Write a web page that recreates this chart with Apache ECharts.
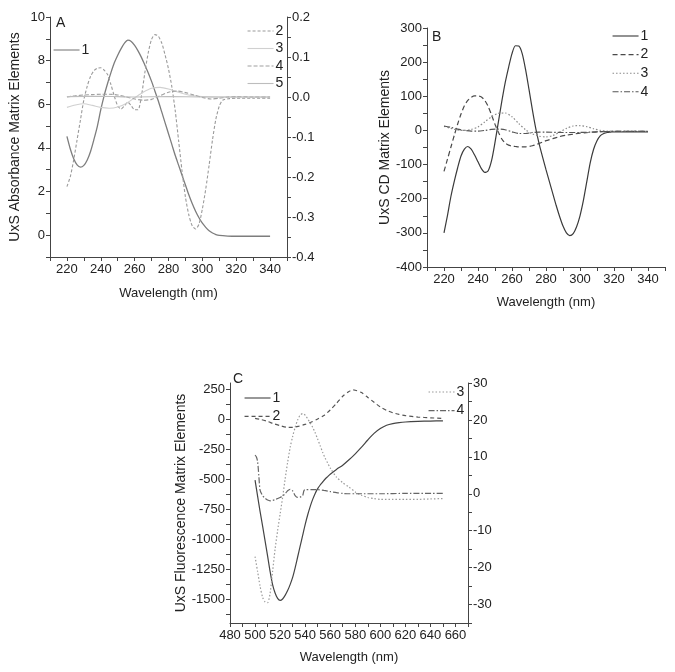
<!DOCTYPE html>
<html><head><meta charset="utf-8">
<script src="https://cdn.jsdelivr.net/npm/echarts@6/dist/echarts.min.js"></script>
<style>html,body{margin:0;padding:0;background:#fff}#c{width:675px;height:672px}</style>
</head><body><div id="c"></div>
<script>
// ---------- Panel A (absorbance) ----------
const aX1 = [220,222,224,226,228,230,232,234,236,238,240,242,244,246,248,250,252,254,256,258,260,262,264,266,268,270,272,274,276,278,280,282,284,286,288,290,292,294,296,298,300,302,304,306,308,310,315,320,330,340];
const aY1 = [4.53,3.95,3.5,3.22,3.12,3.2,3.45,3.85,4.4,5.0,5.75,6.4,6.95,7.45,7.9,8.25,8.55,8.8,8.94,8.88,8.7,8.45,8.15,7.8,7.45,7.05,6.6,6.15,5.65,5.15,4.65,4.15,3.65,3.2,2.75,2.3,1.85,1.45,1.1,0.8,0.55,0.36,0.2,0.1,0.03,-0.01,-0.04,-0.05,-0.05,-0.05];
const aX2 = [220,222,224,226,228,230,232,234,236,238,240,242,244,246,248,250,252,254,256,258,260,262,264,266,268,270,272,274,276,278,280,282,284,286,288,290,292,294,296,298,300,302,304,306,308,310,312,316,320,330,340];
const aY2 = [-0.224,-0.199,-0.157,-0.107,-0.057,-0.007,0.027,0.052,0.066,0.072,0.073,0.067,0.056,0.031,0.002,-0.022,-0.03,-0.022,-0.013,-0.022,-0.032,-0.032,0.002,0.06,0.11,0.144,0.156,0.152,0.135,0.105,0.07,0.025,-0.035,-0.11,-0.185,-0.25,-0.295,-0.322,-0.33,-0.318,-0.28,-0.23,-0.17,-0.107,-0.055,-0.023,-0.008,-0.004,-0.003,-0.003,-0.003];
const aX3 = [220,225,230,235,240,245,250,255,260,265,270,275,280,285,290,295,300,310,320,330,340];
const aY3 = [-0.026,-0.02,-0.017,-0.021,-0.026,-0.028,-0.025,-0.016,-0.002,0.012,0.022,0.024,0.02,0.013,0.007,0.003,0.001,0,0,0,0];
const aX4 = [220,225,230,235,240,245,250,255,260,265,270,275,280,285,290,295,300,305,310,315,320,330,340];
const aY4 = [0.0,0.003,0.005,0.006,0.007,0.007,0.005,0.0,-0.005,-0.008,-0.006,0.003,0.012,0.015,0.011,0.005,-0.001,-0.005,-0.003,0,0.001,0,0];
const aX5 = [220,240,260,280,300,320,340];
const aY5 = [0.001,0.002,0.0,0.001,0.0,0.0,0.0];

// ---------- Panel B (CD) ----------
const bX1 = [220,222,224,226,228,230,232,234,236,238,240,242,244,246,248,250,252,254,256,258,260,262,264,266,268,270,272,274,276,278,280,282,284,286,288,290,292,294,296,298,300,302,304,306,308,310,312,314,316,318,320,330,340];
const bY1 = [-300,-250,-195,-150,-110,-75,-55,-47,-55,-72,-92,-112,-123,-118,-88,-35,25,85,140,185,225,248,247,225,178,120,60,5,-40,-78,-115,-150,-185,-220,-252,-280,-300,-308,-302,-282,-250,-205,-150,-95,-55,-30,-15,-9,-6,-5,-4,-4,-4];
const bX2 = [220,222,224,226,228,230,232,234,236,238,240,242,244,246,248,250,252,254,256,258,260,262,264,266,268,270,272,274,276,278,280,284,288,292,296,300,305,310,320,330,340];
const bY2 = [-120,-85,-50,-15,18,48,72,88,97,101,101,98,88,70,45,18,-5,-25,-37,-43,-46,-47,-48,-48,-48,-47,-45,-42,-38,-34,-30,-24,-18,-14,-11,-8,-6,-4,-3,-3,-3];
const bX3 = [220,224,228,232,236,240,244,248,252,256,260,264,268,272,276,280,284,288,292,296,300,304,308,312,316,320,330,340];
const bY3 = [12,6,1,0,3,10,25,40,50,51,40,20,2,-10,-17,-19,-15,-5,6,13,14,11,5,0,-2,-3,-3,-3];
const bX4 = [220,224,228,232,236,240,244,248,252,256,260,264,268,272,276,280,290,300,310,320,330,340];
const bY4 = [13,9,4,0,-2,-2,0,3,4,2,-4,-9,-9,-6,-5,-5,-6,-6,-4,-3,-3,-3];

// ---------- Panel C (fluorescence) ----------
const cX1 = [500,502,504,506,508,510,512,514,516,518,520,522,524,526,528,530,532,534,536,538,540,542,544,546,548,550,552,554,556,558,560,565,570,575,580,585,590,595,600,605,610,615,620,630,640,650];
const cY1 = [-510,-640,-770,-890,-1015,-1140,-1270,-1380,-1450,-1495,-1512,-1500,-1470,-1430,-1380,-1320,-1240,-1150,-1060,-970,-880,-800,-730,-670,-620,-580,-550,-525,-500,-480,-460,-420,-385,-340,-290,-235,-175,-120,-80,-52,-38,-30,-25,-20,-17,-15];
const cX2 = [500,505,510,515,520,525,530,535,540,545,550,555,560,565,570,575,578,580,585,590,595,600,605,610,615,620,630,640,650];
const cY2 = [5,-5,-20,-40,-55,-68,-70,-60,-45,-25,0,30,75,130,190,230,242,240,220,180,140,100,72,52,38,28,16,10,5];
const cX3 = [500,502,504,506,508,510,512,514,516,518,520,522,524,526,528,530,532,534,536,538,540,542,544,546,548,550,552,554,556,558,560,565,570,575,580,585,590,595,600,610,620,630,640,650];
const cY3 = [-17,-21,-25,-28,-29.3,-29.5,-27,-21,-15,-10,-5.5,-1,4,8.5,12.5,15.5,18,20,21.3,21.7,21.3,20.3,19.2,18,16.5,14.8,13,11.2,9.6,8.3,7,4.5,3,1.8,0.5,-0.4,-1,-1.3,-1.5,-1.5,-1.5,-1.5,-1.4,-1.3];
const cX4 = [500,501,502,503,504,506,508,510,512,514,516,518,520,522,524,526,528,530,532,534,536,538,539,540,545,550,555,560,565,570,575,580,600,620,650];
const cY4 = [10.5,10,8.8,5,1,-0.5,-1.2,-1.7,-1.9,-1.8,-1.6,-1.3,-1,-0.6,0,0.8,1.2,0.8,-0.5,-1,-0.9,-0.5,0.8,1.1,1.1,1.1,0.9,0.6,0.3,0.1,0,0,0,0.1,0.1];

// tick label lists
const cLeftLabels = [-1500,-1250,-1000,-750,-500,-250,0,250];
const cLeftTicks = [-1625,-1500,-1375,-1250,-1125,-1000,-875,-750,-625,-500,-375,-250,-125,0,125,250];

const FONT = "'Liberation Sans Narrow','Arial Narrow','Liberation Sans',Arial,sans-serif";
const FONT2 = "'Liberation Sans',Arial,sans-serif";
const AX = '#444', TX = '#222';

function zip(xs, ys){ return xs.map((v,i)=>[v, ys[i]]); }
function line(name, xi, yi, xs, ys, color, type, width){
  return {name, type:'line', xAxisIndex:xi, yAxisIndex:yi, data:zip(xs,ys),
    showSymbol:false, symbol:'none', smooth:0.25, animation:false,
    lineStyle:{color, type, width: width||1}, itemStyle:{color}};
}
const LBL = {color:TX, fontFamily:FONT, fontSize:13, margin:5};
function baseAxis(extra){
  return Object.assign({
    type:'value', splitLine:{show:false},
    axisLine:{show:true, onZero:false, lineStyle:{color:AX, width:1}},
    axisTick:{show:true, length:4, lineStyle:{color:AX}},
    nameTextStyle:{color:TX, fontFamily:FONT2, fontSize:14}
  }, extra);
}
const xName = {color:TX, fontFamily:FONT2, fontSize:13};
const every20 = v => (v % 20 === 0 ? String(v) : '');
function leg(data, left, top, gap){
  return {data, left, top, orient:'vertical', itemWidth:26, itemHeight:12, itemGap:gap, selectedMode:false,
    formatter:n=>n.slice(1), itemStyle:{opacity:0, borderWidth:0}, lineStyle:{width:1.1},
    textStyle:{color:TX, fontFamily:FONT, fontSize:14, padding:[0,0,0,-3]}};
}

const option = {
  backgroundColor:'#fff',
  animation:false,
  grid:[
    {left:50, top:17, width:237, height:240},
    {left:427, top:28, width:238, height:239},
    {left:230, top:383, width:238, height:240}
  ],
  xAxis:[
    baseAxis({gridIndex:0, min:210, max:350, interval:10, axisLabel:Object.assign({}, LBL, {margin:6, formatter:every20}),
      name:'Wavelength (nm)', nameLocation:'middle', nameGap:30, nameTextStyle:xName}),
    baseAxis({gridIndex:1, min:210, max:350, interval:10, axisLabel:Object.assign({}, LBL, {margin:6, formatter:every20}),
      name:'Wavelength (nm)', nameLocation:'middle', nameGap:29, nameTextStyle:xName}),
    baseAxis({gridIndex:2, min:480, max:670, interval:10, axisLabel:Object.assign({}, LBL, {margin:6, formatter:every20}),
      name:'Wavelength (nm)', nameLocation:'middle', nameGap:28, nameTextStyle:xName})
  ],
  yAxis:[
    baseAxis({gridIndex:0, position:'left', min:-1, max:10, interval:1,
      axisLabel:Object.assign({}, LBL, {formatter:v => (v>=0 && v%2===0 ? String(v) : '')}),
      name:'UxS Absorbance Matrix Elements', nameLocation:'middle', nameGap:28, nameRotate:90}),
    baseAxis({gridIndex:0, position:'right', min:-0.4, max:0.2, interval:0.05,
      axisLabel:Object.assign({}, LBL, {formatter:v => {const k=Math.round(v*100); return k%10===0 ? (k/100).toFixed(1) : '';}})}),
    baseAxis({gridIndex:1, position:'left', min:-400, max:300, interval:50,
      axisLabel:Object.assign({}, LBL, {formatter:v => (v%100===0 ? String(v) : '')}),
      name:'UxS CD Matrix Elements', nameLocation:'middle', nameGap:34, nameRotate:90}),
    baseAxis({gridIndex:2, position:'left', min:-1700, max:300,
      axisTick:{show:true, length:4, lineStyle:{color:AX}, customValues:cLeftTicks},
      axisLabel:Object.assign({}, LBL, {customValues:cLeftLabels, formatter:v => String(v)}),
      name:'UxS Fluorescence Matrix Elements', nameLocation:'middle', nameGap:38, nameRotate:90}),
    baseAxis({gridIndex:2, position:'right', min:-35, max:30, interval:5,
      axisLabel:Object.assign({}, LBL, {formatter:v => (v%10===0 ? String(v) : '')})})
  ],
  legend:[
    leg(['a1'], 48, 38, 4),
    leg(['a2','a3','a4','a5'], 242, 19, 3.5),
    leg(['b1','b2','b3','b4'], 607, 24, 4.6),
    leg(['c1','c2'], 239, 386, 4.4),
    leg(['c3','c4'], 423, 380, 4.6)
  ],
  graphic:[
    {type:'text', left:56, top:16, style:{text:'A', fill:TX, font:"14px 'Liberation Sans'"}},
    {type:'text', left:432, top:30, style:{text:'B', fill:TX, font:"14px 'Liberation Sans'"}},
    {type:'text', left:233, top:372, style:{text:'C', fill:TX, font:"14px 'Liberation Sans'"}}
  ],
  series:[
    line('a1',0,0,aX1,aY1,'#7d7d7d','solid',1.3),
    line('a2',0,1,aX2,aY2,'#9a9a9a',[3,2],1.1),
    line('a3',0,1,aX3,aY3,'#d0d0d0','solid',1.1),
    line('a4',0,1,aX4,aY4,'#a0a0a0',[4,2],1.1),
    line('a5',0,1,aX5,aY5,'#bdbdbd','solid',1.1),
    line('b1',1,2,bX1,bY1,'#3a3a3a','solid',1.2),
    line('b2',1,2,bX2,bY2,'#4a4a4a',[5,3],1.2),
    line('b3',1,2,bX3,bY3,'#8a8a8a',[1.5,2],1.2),
    line('b4',1,2,bX4,bY4,'#555555',[6,2,1.5,2],1.2),
    line('c1',2,3,cX1,cY1,'#444444','solid',1.2),
    line('c2',2,3,cX2,cY2,'#555555',[4,3],1.2),
    line('c3',2,4,cX3,cY3,'#9a9a9a',[1.5,2],1.2),
    line('c4',2,4,cX4,cY4,'#666666',[6,2,1.5,2],1.2)
  ]
};
const chart = echarts.init(document.getElementById('c'), null, {renderer:'canvas'});
chart.setOption(option);
</script></body></html>
